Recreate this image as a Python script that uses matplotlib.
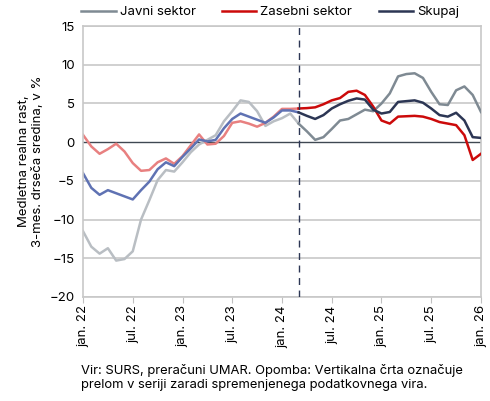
import matplotlib
matplotlib.use("Agg")
import matplotlib.pyplot as plt
import numpy as np

plt.rcParams['font.family'] = ['Inter', 'DejaVu Sans']

# months from jan. 22 (0) to jan. 26 (48)
months = np.arange(49)
break_month = 26  # mar. 24, change of data source

javni = [-11.5, -13.5, -14.4, -13.7, -15.3, -15.1, -14.1, -10.0, -7.5, -4.9, -3.6, -3.8,
         -2.6, -1.3, -0.3, 0.3, 0.9, 2.7, 4.0, 5.4, 5.2, 4.0, 2.1, 2.7,
         3.1, 3.7, 2.4, 1.4, 0.3, 0.65, 1.7, 2.8, 3.0, 3.6, 4.2, 4.0,
         5.0, 6.3, 8.5, 8.8, 8.9, 8.3, 6.5, 4.9, 4.8, 6.7, 7.2, 6.1, 3.9]
zasebni = [0.95, -0.55, -1.5, -0.9, -0.2, -1.2, -2.7, -3.7, -3.6, -2.6, -2.1, -2.8,
           -1.8, -0.4, 1.0, -0.3, -0.2, 0.8, 2.5, 2.7, 2.4, 2.0, 2.5, 3.3,
           4.3, 4.3, 4.35, 4.4, 4.5, 4.9, 5.4, 5.7, 6.5, 6.65, 6.1, 4.6,
           2.8, 2.4, 3.3, 3.35, 3.4, 3.3, 3.0, 2.6, 2.4, 2.2, 0.9, -2.3, -1.5]
skupaj = [-4.0, -5.9, -6.8, -6.2, -6.6, -7.0, -7.4, -6.2, -5.1, -3.5, -2.6, -3.1,
          -1.9, -0.8, 0.35, 0.1, 0.3, 1.8, 3.0, 3.7, 3.3, 2.9, 2.5, 3.2,
          4.1, 4.1, 3.85, 3.4, 3.0, 3.5, 4.35, 4.9, 5.35, 5.65, 5.5, 4.2,
          3.7, 3.9, 5.2, 5.3, 5.4, 5.1, 4.35, 3.5, 3.3, 3.8, 2.8, 0.65, 0.55]

tick_pos = list(range(0, 49, 6))
tick_labels = ["jan. 22", "jul. 22", "jan. 23", "jul. 23", "jan. 24",
               "jul. 24", "jan. 25", "jul. 25", "jan. 26"]

series = [
    ("Javni sektor", javni, "#b9bec3", "#7f8a93"),
    ("Zasebni sektor", zasebni, "#e88080", "#cc0a0a"),
    ("Skupaj", skupaj, "#5f72b3", "#2c3654"),
]

fig = plt.figure(figsize=(4.9, 4.01), dpi=100)
ax = fig.add_axes([0.1694, 0.2594, 0.8122, 0.6756])

for y in range(-20, 16, 5):
    if y != 0:
        ax.axhline(y, color="#c8c8c8", lw=1.2, zorder=0)
ax.axhline(0, color="#3f4852", lw=1.0, zorder=1)

b = break_month
for name, vals, light, dark in series:
    ax.plot(months[:b + 1], vals[:b + 1], color=light, lw=1.8, zorder=2)
    ax.plot(months[b:], vals[b:], color=dark, lw=1.8, zorder=3, label=name)

ax.axvline(b, color="#2c3654", lw=1.0, ls=(0, (5, 4)), zorder=4)

ax.set_xlim(0, 48)
ax.set_ylim(-20, 15)
ax.set_yticks(range(-20, 16, 5))
ax.set_xticks(tick_pos)
ax.set_xticklabels(tick_labels, rotation=90)
ax.tick_params(axis="y", length=0, labelsize=9.5, pad=6)
ax.tick_params(axis="x", length=4, color="#c0c0c0", labelsize=9.5, pad=2)
for s in ax.spines.values():
    s.set_color("#c8c8c8")
    s.set_linewidth(1.2)

ax.set_ylabel("Medletna realna rast,\n3-mes. drseča sredina, v %", fontsize=9.5, labelpad=4)

ax.legend(loc="lower center", bbox_to_anchor=(0.47, 1.0), ncol=3, frameon=False,
          fontsize=9.5, handlelength=2.6, handletextpad=0.3, columnspacing=2.0,
          borderaxespad=0.2)

fig.text(0.165, 0.093, "Vir: SURS, preračuni UMAR. Opomba: Vertikalna črta označuje\n"
         "prelom v seriji zaradi spremenjenega podatkovnega vira.",
         fontsize=9.35, va="top", ha="left", linespacing=1.25)

fig.savefig("out.png", dpi=100)
